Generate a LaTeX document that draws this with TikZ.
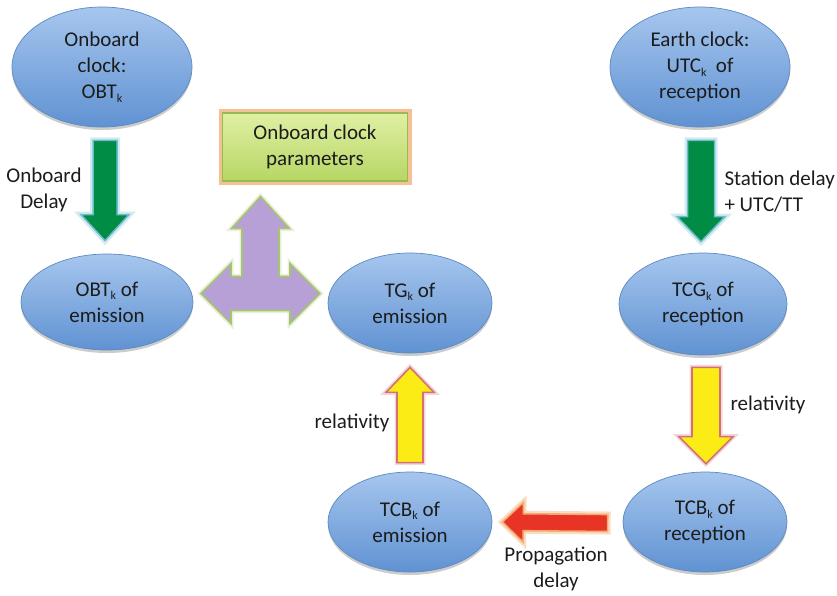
\documentclass[tikz,border=0pt]{standalone}
\usepackage{fontspec}
\setmainfont{Carlito}
\usetikzlibrary{shapes.geometric,calc,shadows}
\definecolor{ellTop}{RGB}{166,198,238}
\definecolor{ellBot}{RGB}{96,146,210}
\definecolor{ellLine}{RGB}{92,138,194}
\definecolor{grnFill}{RGB}{0,140,68}
\definecolor{grnGlow}{RGB}{110,188,205}
\definecolor{yelFill}{RGB}{250,236,20}
\definecolor{yelLine}{RGB}{212,112,118}
\definecolor{redFill}{RGB}{232,52,38}
\definecolor{redGlow}{RGB}{242,172,112}
\definecolor{purFill}{RGB}{182,160,214}
\definecolor{purLine}{RGB}{168,196,112}
\definecolor{boxTop}{RGB}{224,240,164}
\definecolor{boxBot}{RGB}{182,214,100}
\definecolor{boxLine}{RGB}{150,186,84}
\definecolor{boxGlow}{RGB}{238,168,100}
\definecolor{txt}{RGB}{28,28,28}
\newcommand\subk{\raisebox{-0.35ex}{\fontsize{12}{12}\selectfont k}}
% #1 style, #2 tail, #3 tip, #4 shaft half width, #5 head half width, #6 head length
\newcommand\blockarrow[6]{%
  \coordinate (baH) at ($(#3)!#6!(#2)$);
  \draw[#1] ($(#2)!#4!90:(#3)$) -- ($(baH)!#4!90:(#3)$) -- ($(baH)!#5!90:(#3)$)
    -- (#3) -- ($(baH)!#5!-90:(#3)$) -- ($(baH)!#4!-90:(#3)$) -- ($(#2)!#4!-90:(#3)$) -- cycle;}
\tikzset{
  base/.style={font=\fontsize{21}{26}\selectfont, text=txt, align=center},
  bubble/.style={base, ellipse, inner sep=0pt, draw=ellLine, line width=0.7pt,
    top color=ellTop, bottom color=ellBot,
    drop shadow={shadow xshift=0pt, shadow yshift=-3pt, opacity=0.2, fill=black}},
  parambox/.style={base, rectangle, inner sep=0pt, minimum width=185pt, minimum height=68pt,
    draw=boxLine, line width=1.2pt, top color=boxTop, bottom color=boxBot,
    preaction={draw=boxGlow, line width=8pt, opacity=0.7}},
  lbl/.style={base},
  grnarrow/.style={fill=grnFill, draw=grnGlow, line width=1.5pt, line join=miter,
    preaction={draw=grnGlow!55, line width=6pt, opacity=0.55}},
  yelarrow/.style={fill=yelFill, draw=yelLine, line width=1.6pt, line join=miter,
    preaction={draw=yelLine!45, line width=5pt, opacity=0.6}},
  redarrow/.style={fill=redFill, draw=redGlow, line width=1.6pt, line join=miter,
    preaction={draw=redGlow!70, line width=6pt, opacity=0.6}},
  purarrow/.style={fill=purFill, draw=purLine, line width=1.6pt, line join=miter,
    preaction={draw=purLine!50, line width=5pt, opacity=0.5}},
}
\begin{document}
\begin{tikzpicture}[x=1pt,y=-1pt]
\fill[white] (0,0) rectangle (837,595);
\useasboundingbox (0,0) rectangle (837,595);

% nodes
\node[bubble, minimum width=180pt, minimum height=120pt] (clk) at (102,67) {Onboard\\clock:\\OBT\subk};
\node[bubble, minimum width=180pt, minimum height=120pt] (earth) at (700,67) {Earth clock:\\UTC\subk\ \ of\\reception};
\node[bubble, minimum width=172pt, minimum height=96pt] (obte) at (107,302) {OBT\subk\ of\\emission};
\node[bubble, minimum width=164pt, minimum height=100pt] (tge) at (410,303) {TG\subk\ of\\emission};
\node[bubble, minimum width=168pt, minimum height=102pt] (tcg) at (703,304) {TCG\subk\ of\\reception};
\node[bubble, minimum width=164pt, minimum height=100pt] (tcbe) at (410,522) {TCB\subk\ of\\emission};
\node[bubble, minimum width=164pt, minimum height=100pt] (tcbr) at (705,522) {TCB\subk\ of\\reception};
\node[parambox] (params) at (315,147) {Onboard clock\\parameters};

% connector arrows
\blockarrow{grnarrow}{$(clk.south)+(3,13)$}{$(obte.north)+(-2,-13)$}{12pt}{24pt}{26pt}
\blockarrow{grnarrow}{$(earth.south)+(1,13)$}{$(tcg.north)+(-2,-11)$}{13.5pt}{24pt}{25pt}
\blockarrow{yelarrow}{$(tcbe.north)+(0,-9)$}{$(tge.south)+(0,14)$}{13pt}{24pt}{25pt}
\blockarrow{yelarrow}{$(tcg.south)+(3,12)$}{$(tcbr.north)+(1,-8)$}{14pt}{27pt}{27pt}
\blockarrow{redarrow}{$(tcbr.west)+(-15,1)$}{$(tcbe.east)+(10,0)$}{8.5pt}{20pt}{21pt}

% three-way arrow between OBT of emission, TG of emission and parameters
\coordinate (pc) at ($(obte.east)!0.5!(tge.west)+(0,-9)$);
\draw[purarrow, shift={(pc)}] (0,-97) -- (29,-65) -- (18.5,-65) -- (18.5,-17) -- (29.5,-17)
  -- (29.5,-30) -- (59.5,0) -- (29.5,30) -- (29.5,17) -- (-29.5,17) -- (-29.5,30)
  -- (-59.5,0) -- (-29.5,-30) -- (-29.5,-17) -- (-18.5,-17) -- (-18.5,-65) -- (-29,-65) -- cycle;

% labels
\node[lbl] (lblOD) at (44,190) {Onboard\\Delay};
\node[lbl, align=left, anchor=west] (lblSD) at (721,192) {Station delay\\+ UTC/TT};
\node[lbl] (lblR1) at (352,423) {relativity};
\node[lbl] (lblR2) at (768,405) {relativity};
\node[lbl] (lblPD) at (556,569) {Propagation\\delay};
\end{tikzpicture}
\end{document}
